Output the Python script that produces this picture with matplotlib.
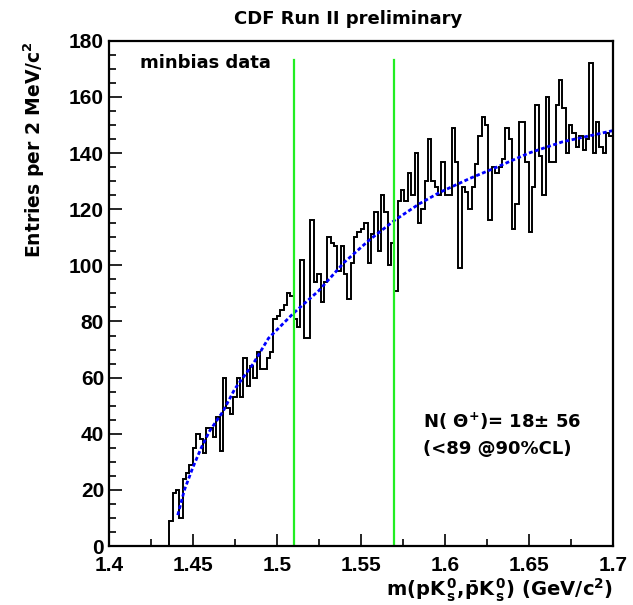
import matplotlib.pyplot as plt
from matplotlib.ticker import MultipleLocator
import numpy as np

plt.rcParams['font.family'] = ['Liberation Sans', 'DejaVu Sans']
plt.rcParams['font.weight'] = 'bold'
plt.rcParams['mathtext.fontset'] = 'custom'
plt.rcParams['mathtext.rm'] = 'DejaVu Sans:bold'
plt.rcParams['mathtext.it'] = 'DejaVu Sans:bold'
plt.rcParams['mathtext.bf'] = 'DejaVu Sans:bold'
plt.rcParams['mathtext.sf'] = 'DejaVu Sans:bold'

# histogram: 2 MeV bins starting at threshold
bin_lo = 1.436
bin_w = 0.002
counts = [
    9, 19, 20, 10, 24, 26, 29, 35, 40, 38,
    33, 42, 42, 39, 46, 34, 60, 49, 47, 53,
    60, 53, 67, 57, 64, 60, 69, 63, 63, 67,
    69, 81, 82, 84, 86, 90, 89, 81, 78, 102,
    74, 74, 116, 94, 97, 87, 94, 110, 108, 107,
    98, 107, 97, 88, 101, 110, 112, 113, 115, 101,
    111, 119, 105, 125, 119, 100, 108, 91, 123, 127,
    123, 133, 125, 140, 115, 120, 130, 145, 130, 128,
    125, 137, 125, 125, 149, 137, 99, 128, 126, 120,
    128, 136, 146, 153, 150, 116, 135, 133, 135, 138,
    149, 145, 113, 122, 151, 151, 137, 112, 128, 157,
    139, 125, 160, 137, 137, 157, 166, 156, 140, 150,
    147, 142, 146, 141, 145, 172, 140, 151, 142, 140,
    147, 146,
]

# background fit
fit_m = [1.441, 1.445, 1.450, 1.455, 1.460, 1.468, 1.475, 1.486, 1.495,
         1.510, 1.525, 1.540, 1.555, 1.570, 1.585, 1.597, 1.615, 1.631,
         1.650, 1.670, 1.685, 1.700]
fit_y = [11, 20, 28, 35, 41, 48, 56, 65, 74,
         83, 91, 101, 109, 116, 122, 126, 131, 135,
         140, 144, 146, 148]

# signal window
window = [1.51, 1.57]
window_top = 173

edges = bin_lo + bin_w * np.arange(len(counts) + 1)

fig = plt.figure(figsize=(6.33, 6.05), dpi=100)
ax = fig.add_axes([0.172, 0.0975, 0.796, 0.835])

ax.stairs(counts, edges, baseline=0, color='k', lw=1.4)
ax.plot(fit_m, fit_y, color='blue', lw=2, ls=(0, (1.4, 0.9)))
for xw in window:
    ax.plot([xw, xw], [0, window_top], color='#22ee22', lw=1.6)

ax.set_xlim(1.4, 1.7)
ax.set_ylim(0, 180)
ax.xaxis.set_minor_locator(MultipleLocator(0.025))
ax.yaxis.set_major_locator(MultipleLocator(20))
ax.yaxis.set_minor_locator(MultipleLocator(5))
ax.set_xticks(np.arange(1.4, 1.701, 0.05))
ax.set_xticklabels(['1.4', '1.45', '1.5', '1.55', '1.6', '1.65', '1.7'])
ax.tick_params(axis='x', which='major', pad=7)
ax.tick_params(which='major', direction='in', length=9, width=1.2,
               labelsize=15, top=False, right=False)
ax.tick_params(which='minor', direction='in', length=5, width=1.2,
               top=False, right=False)
for sp in ax.spines.values():
    sp.set_linewidth(1.6)

tf = 'DejaVu Sans'
fig.text(0.55, 0.968, 'CDF Run II preliminary', ha='center', va='center',
         fontsize=13, fontweight='bold', family=tf)
ax.set_ylabel('Entries per 2 MeV/c$^{2}$', fontsize=13.5, fontweight='bold',
              family=tf, loc='top', labelpad=16)
ax.set_xlabel(r'm(pK$^{\,0}_{\,s}$,$\bar{\rm p}$K$^{\,0}_{\,s}$) (GeV/c$^{2}$)',
              fontsize=14, fontweight='bold', family=tf, loc='right',
              labelpad=1)

ax.text(1.4185, 172, 'minbias data', fontsize=13, fontweight='bold',
        family=tf, va='center')
ax.text(1.587, 44.5, r'N( $\Theta^{+}$)= 18$\pm$ 56', fontsize=13,
        fontweight='bold', family=tf, va='center')
ax.text(1.587, 34.5, '(<89 @90%CL)', fontsize=13, fontweight='bold',
        family=tf, va='center')

fig.savefig('out.png', dpi=100)
